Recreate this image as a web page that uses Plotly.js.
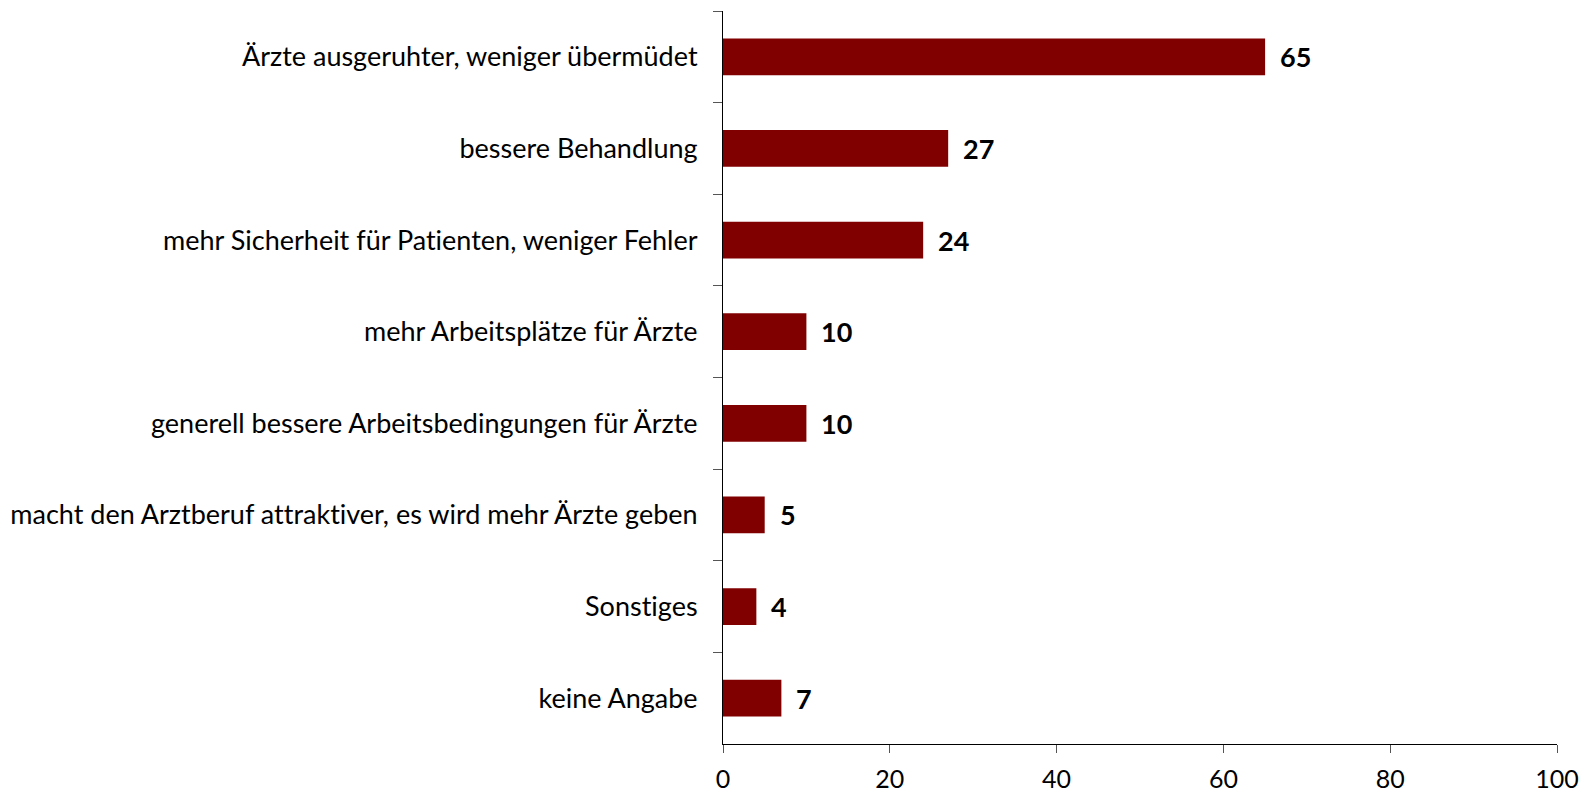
<!DOCTYPE html>
<html>
<head>
<meta charset="utf-8">
<script src="https://cdn.plot.ly/plotly-3.0.1.min.js"></script>
<style>html,body{margin:0;padding:0;background:#fff;}#chart{width:1593px;height:792px;}
text{font-variant-ligatures:none;font-feature-settings:"liga" 0,"clig" 0;}</style>
</head>
<body>
<div id="chart"></div>
<script>
const categories = [
  "Ärzte ausgeruhter, weniger übermüdet",
  "bessere Behandlung",
  "mehr Sicherheit für Patienten, weniger Fehler",
  "mehr Arbeitsplätze für Ärzte",
  "generell bessere Arbeitsbedingungen für Ärzte",
  "macht den Arztberuf attraktiver, es wird mehr Ärzte geben",
  "Sonstiges",
  "keine Angabe"
];
const values = [65, 27, 24, 10, 10, 5, 4, 7];
const xTickValues = [0, 20, 40, 60, 80, 100];

const FONT = "Lato, 'Open Sans', sans-serif";

const trace = {
  type: 'bar',
  orientation: 'h',
  x: values,
  y: categories,
  marker: {color: '#800000'},
  hoverinfo: 'skip',
  showlegend: false
};

const annotations = values.map((v, i) => ({
  x: v, y: categories[i], xref: 'x', yref: 'y',
  text: '<b>' + v + '</b>', showarrow: false,
  xanchor: 'left', yanchor: 'middle', xshift: 13,
  font: {family: FONT, size: 27, color: '#000'}
}));

const layout = {
  width: 1593, height: 792,
  margin: {l: 723, r: 36, t: 11, b: 48, pad: 0},
  paper_bgcolor: '#fff', plot_bgcolor: '#fff',
  bargap: 0.6,
  font: {family: FONT, size: 27, color: '#000'},
  xaxis: {
    range: [0, 100], tickvals: xTickValues, ticktext: xTickValues.map(String),
    showgrid: false, zeroline: false, showline: true, linecolor: '#000', linewidth: 1,
    ticks: 'outside', ticklen: 8, tickcolor: '#555', tickwidth: 1,
    tickfont: {family: FONT, size: 25, color: '#000'},
    ticklabelstandoff: 5, automargin: false, fixedrange: true
  },
  yaxis: {
    autorange: 'reversed', type: 'category',
    showgrid: false, zeroline: false, showline: true, linecolor: '#000', linewidth: 1,
    ticks: 'outside', ticklen: 9, tickcolor: '#555', tickwidth: 1, tickson: 'boundaries',
    tickfont: {family: FONT, size: 27, color: '#000'},
    ticklabelstandoff: 19, automargin: false, fixedrange: true
  },
  annotations: annotations
};

Plotly.newPlot('chart', [trace], layout, {displayModeBar: false, staticPlot: true});
</script>
</body>
</html>
